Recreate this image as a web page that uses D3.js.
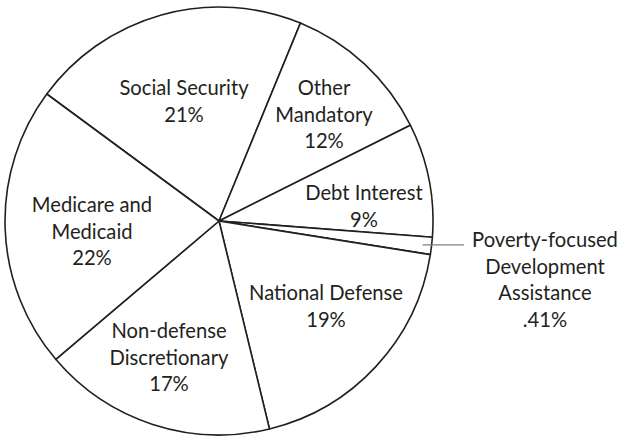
<!DOCTYPE html>
<html>
<head>
<meta charset="utf-8">
<script src="https://cdn.jsdelivr.net/npm/d3@7/dist/d3.min.js"></script>
<style>
  html, body { margin: 0; padding: 0; background: #fff; }
  svg { display: block; }
</style>
</head>
<body>
<script>
// Categories in drawing order (clockwise, starting with Social Security)
const categories = [
  "Social Security",
  "Other Mandatory",
  "Debt Interest",
  "Poverty-focused Development Assistance",
  "National Defense",
  "Non-defense Discretionary",
  "Medicare and Medicaid"
];
// Wedge sizes as drawn in the picture (percent of the full circle)
const wedgeShares = [21.1, 11.4, 8.6, 1.3, 18.7, 17.6, 21.3];
// Printed percentage labels
const percentLabels = ["21%", "12%", "9%", ".41%", "19%", "17%", "22%"];
// Label text lines
const labelLines = [
  ["Social Security"],
  ["Other", "Mandatory"],
  ["Debt Interest"],
  ["Poverty-focused", "Development", "Assistance"],
  ["National Defense"],
  ["Non-defense", "Discretionary"],
  ["Medicare and", "Medicaid"]
];

// ---- layout ----
const W = 619, H = 436;
const cx = 219, cy = 221, R = 214;
const startDeg = -53.6;
// label block centre (first line centre) relative to pie centre
const labelAt = [
  [-35, -134], [105, -134], [145, -29], [326, 18], [107, 71], [-50, 109], [-127, -17]
];
const lineH = 26.5;
const ink = "#231f20";

const svg = d3.select("body").append("svg")
  .attr("width", W).attr("height", H);
svg.append("rect").attr("width", W).attr("height", H).attr("fill", "#fff");

const g = svg.append("g").attr("transform", `translate(${cx},${cy})`);

const pie = d3.pie().sort(null).value(d => d)
  .startAngle(startDeg * Math.PI / 180)
  .endAngle((startDeg + 360) * Math.PI / 180);
const arcs = pie(wedgeShares);
const arc = d3.arc().innerRadius(0).outerRadius(R);

g.selectAll("path.slice").data(arcs).enter().append("path")
  .attr("class", "slice")
  .attr("d", arc)
  .attr("fill", "#fff")
  .attr("stroke", ink)
  .attr("stroke-width", 1.6)
  .attr("stroke-linejoin", "round");

// leader line for the tiny slice
const povIdx = 3;
const pa = arcs[povIdx];
const mid = (pa.startAngle + pa.endAngle) / 2;
const lx0 = (R - 9) * Math.sin(mid);
const ly0 = -(R - 9) * Math.cos(mid);
g.append("line")
  .attr("x1", lx0).attr("y1", ly0)
  .attr("x2", 245).attr("y2", ly0)
  .attr("stroke", "#808080").attr("stroke-width", 1.2);

// labels
const labels = g.selectAll("text.lbl").data(categories).enter().append("text")
  .attr("class", "lbl")
  .attr("text-anchor", "middle")
  .attr("font-family", "Lato, 'Open Sans', sans-serif")
  .attr("font-size", 20.2)
  .attr("fill", ink);

labels.each(function(d, i) {
  const t = d3.select(this);
  const lines = labelLines[i].concat([percentLabels[i]]);
  lines.forEach((ln, k) => {
    t.append("tspan")
      .attr("x", labelAt[i][0])
      .attr("y", labelAt[i][1] + k * lineH)
      .attr("dominant-baseline", "central")
      .text(ln);
  });
});
</script>
</body>
</html>
